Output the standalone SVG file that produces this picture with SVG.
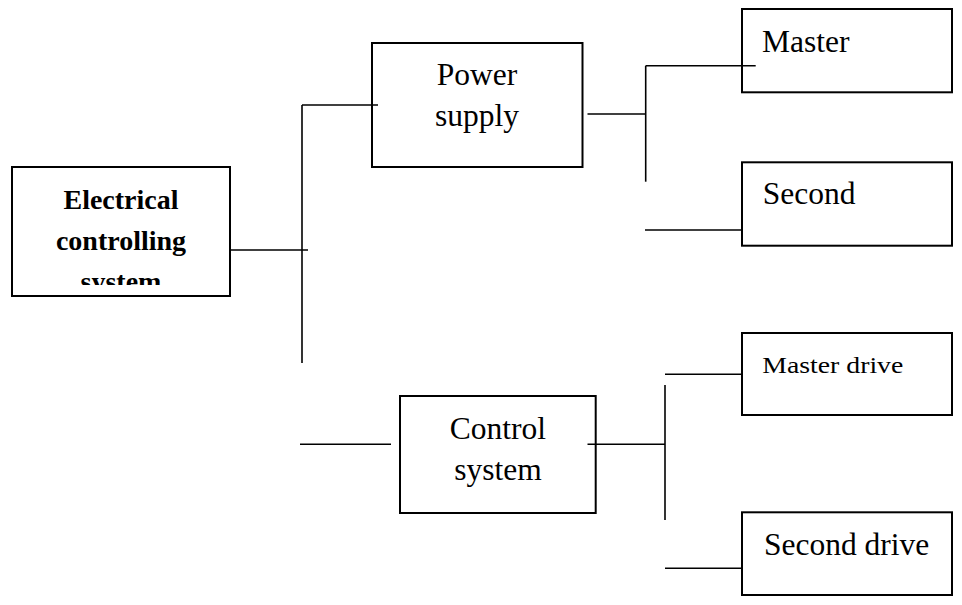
<svg xmlns="http://www.w3.org/2000/svg" width="962" height="605" viewBox="0 0 962 605">
<style>
.box{fill:#fff;stroke:#000;stroke-width:2}
.ln{stroke:#000;stroke-width:1.6;fill:none}
.t{font-family:"Liberation Serif","Times New Roman",serif;font-size:31.5px;fill:#000}
.b{font-family:"Liberation Serif","Times New Roman",serif;font-size:28px;font-weight:bold;fill:#000}
</style>
<defs>
<clipPath id="clipE"><rect x="12" y="167" width="218" height="118"/></clipPath>
</defs>
<rect width="962" height="605" fill="#fff"/>
<g id="electrical">
<rect class="box" x="12" y="167" width="218" height="129"/>
<g clip-path="url(#clipE)">
<text class="b" x="121" y="209" text-anchor="middle">Electrical</text>
<text class="b" x="121" y="250" text-anchor="middle">controlling</text>
<text class="b" x="121" y="291" text-anchor="middle">system</text>
</g>
</g>
<g id="power">
<rect class="box" x="372" y="43" width="210.5" height="124"/>
<text class="t" x="477" y="85" text-anchor="middle">Power</text>
<text class="t" x="477" y="126" text-anchor="middle">supply</text>
</g>
<g id="control">
<rect class="box" x="400" y="396" width="195.7" height="117"/>
<text class="t" x="498" y="439" text-anchor="middle">Control</text>
<text class="t" x="498" y="480" text-anchor="middle">system</text>
</g>
<g id="master">
<rect class="box" x="742" y="9" width="210" height="83.3"/>
<text class="t" x="762" y="51.7">Master</text>
</g>
<g id="second">
<rect class="box" x="742" y="162.3" width="210" height="83.4"/>
<text class="t" x="762.7" y="204">Second</text>
</g>
<g id="masterdrive">
<rect class="box" x="742" y="333" width="210" height="82"/>
<text class="t" x="762.3" y="373.3" style="font-size:23px" textLength="141" lengthAdjust="spacingAndGlyphs">Master drive</text>
</g>
<g id="seconddrive">
<rect class="box" x="742" y="512.3" width="210" height="82.7"/>
<text class="t" x="764" y="555">Second drive</text>
</g>
<g id="connectors">
<line class="ln" x1="230" y1="250" x2="308" y2="250"/>
<line class="ln" x1="302" y1="105" x2="302" y2="363"/>
<line class="ln" x1="302" y1="105" x2="378" y2="105"/>
<line class="ln" x1="300" y1="444.3" x2="391" y2="444.3"/>
<line class="ln" x1="587.5" y1="114" x2="645.7" y2="114"/>
<line class="ln" x1="645.7" y1="65.7" x2="645.7" y2="181.7"/>
<line class="ln" x1="645.7" y1="65.7" x2="755.7" y2="65.7"/>
<line class="ln" x1="645" y1="230" x2="742" y2="230"/>
<line class="ln" x1="587.5" y1="444.3" x2="665" y2="444.3"/>
<line class="ln" x1="665" y1="374.3" x2="742" y2="374.3"/>
<line class="ln" x1="665" y1="385" x2="665" y2="520"/>
<line class="ln" x1="665" y1="568.3" x2="742" y2="568.3"/>
</g>
</svg>
